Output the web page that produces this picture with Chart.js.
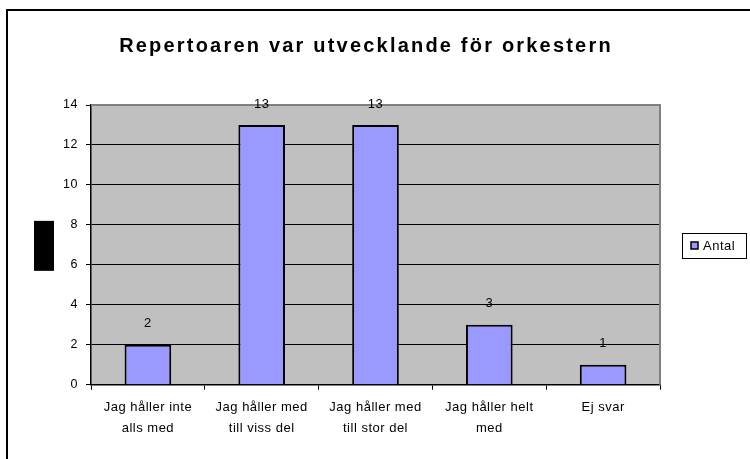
<!DOCTYPE html>
<html>
<head>
<meta charset="utf-8">
<script src="https://cdn.jsdelivr.net/npm/chart.js@4/dist/chart.umd.min.js"></script>
<style>
  html, body { margin: 0; padding: 0; background: #fff; }
  #wrap { width: 750px; height: 459px; }
</style>
</head>
<body>
<div id="wrap"><canvas id="bar-chart" width="750" height="459"></canvas></div>
<script>
var chartTitle = 'Repertoaren var utvecklande för orkestern';
var seriesName = 'Antal';
var categories = [
  ['Jag håller inte', 'alls med'],
  ['Jag håller med', 'till viss del'],
  ['Jag håller med', 'till stor del'],
  ['Jag håller helt', 'med'],
  ['Ej svar']
];
var counts = [2, 13, 13, 3, 1];
var yTicks = [0, 2, 4, 6, 8, 10, 12, 14];

var barColor = '#9999FF';
var plotGray = '#C0C0C0';

// old excel look: frame, title, legend box, value labels
var excelLook = {
  id: 'excelLook',
  beforeDraw: function(chart) {
    var ctx = chart.ctx;
    var a = chart.chartArea;
    ctx.save();
    ctx.fillStyle = '#fff';
    ctx.fillRect(0, 0, chart.width, chart.height);
    ctx.fillStyle = plotGray;
    ctx.fillRect(a.left, a.top, a.right - a.left, a.bottom - a.top);
    ctx.restore();
    // excel spreads its letters a bit
    ctx.letterSpacing = '0.5px';
  },
  beforeDatasetsDraw: function(chart) {
    var ctx = chart.ctx;
    var a = chart.chartArea;
    ctx.save();
    ctx.strokeStyle = '#808080';
    ctx.lineWidth = 2;
    ctx.beginPath();
    ctx.moveTo(a.left, a.top);
    ctx.lineTo(a.right, a.top);
    ctx.lineTo(a.right, a.bottom);
    ctx.stroke();
    ctx.restore();
  },
  afterDraw: function(chart) {
    var ctx = chart.ctx;
    var a = chart.chartArea;
    ctx.save();

    // outer frame
    ctx.strokeStyle = '#000';
    ctx.lineWidth = 2;
    ctx.strokeRect(7, 10, 800, 500);

    // title
    ctx.fillStyle = '#000';
    ctx.letterSpacing = '2.2px';
    ctx.font = 'bold 20px "Liberation Sans", Arial, sans-serif';
    ctx.textAlign = 'center';
    ctx.textBaseline = 'alphabetic';
    ctx.fillText(chartTitle, 366, 52);

    // y axis title shows up as a black block
    ctx.fillRect(34, (a.top + a.bottom) / 2 - 24, 20, 50);

    // value labels above the bars
    ctx.letterSpacing = '0.5px';
    ctx.font = '13px "Liberation Sans", Arial, sans-serif';
    ctx.textBaseline = 'middle';
    var meta = chart.getDatasetMeta(0);
    meta.data.forEach(function(bar, i) {
      ctx.fillText(String(counts[i]), bar.x, bar.y - 21);
    });

    // legend box
    ctx.lineWidth = 1;
    ctx.strokeStyle = '#000';
    ctx.strokeRect(682.5, 233.5, 64, 25);
    ctx.fillStyle = barColor;
    ctx.fillRect(691, 242, 7, 7);
    ctx.lineWidth = 1.5;
    ctx.strokeRect(691, 242, 7, 7);
    ctx.fillStyle = '#000';
    ctx.textAlign = 'left';
    ctx.fillText(chart.data.datasets[0].label, 703, 246);

    ctx.restore();
  }
};

new Chart(document.getElementById('bar-chart'), {
  type: 'bar',
  data: {
    labels: categories,
    datasets: [{
      label: seriesName,
      data: counts,
      backgroundColor: barColor,
      borderColor: '#000',
      borderWidth: 2,
      barPercentage: 0.41,
      categoryPercentage: 1
    }]
  },
  options: {
    responsive: false,
    animation: false,
    devicePixelRatio: 1,
    layout: {
      padding: { top: 105, right: 90, left: 0, bottom: 0 }
    },
    plugins: {
      legend: { display: false },
      title: { display: false },
      tooltip: { enabled: false }
    },
    scales: {
      x: {
        offset: true,
        grid: {
          offset: true,
          drawOnChartArea: false,
          color: '#000',
          tickLength: 5
        },
        border: { color: '#000', width: 1.5 },
        ticks: {
          color: '#000',
          font: { family: '"Liberation Sans", Arial, sans-serif', size: 13, lineHeight: 1.65 },
          padding: 7,
          maxRotation: 0,
          autoSkip: false
        },
        afterFit: function(scale) {
          scale.height = 459 - 384.7;
        }
      },
      y: {
        min: 0,
        max: 14,
        afterBuildTicks: function(scale) {
          scale.ticks = yTicks.map(function(v) { return { value: v }; });
        },
        grid: {
          color: function(c) {
            return c.tick && c.tick.value === 14 ? '#808080' : '#000';
          },
          tickColor: '#000',
          tickLength: 5
        },
        border: { color: '#000', width: 1.5 },
        ticks: {
          color: '#000',
          font: { family: '"Liberation Sans", Arial, sans-serif', size: 12.5 },
          padding: 8
        },
        afterFit: function(scale) {
          scale.width = 91;
        }
      }
    }
  },
  plugins: [excelLook]
});
</script>
</body>
</html>
